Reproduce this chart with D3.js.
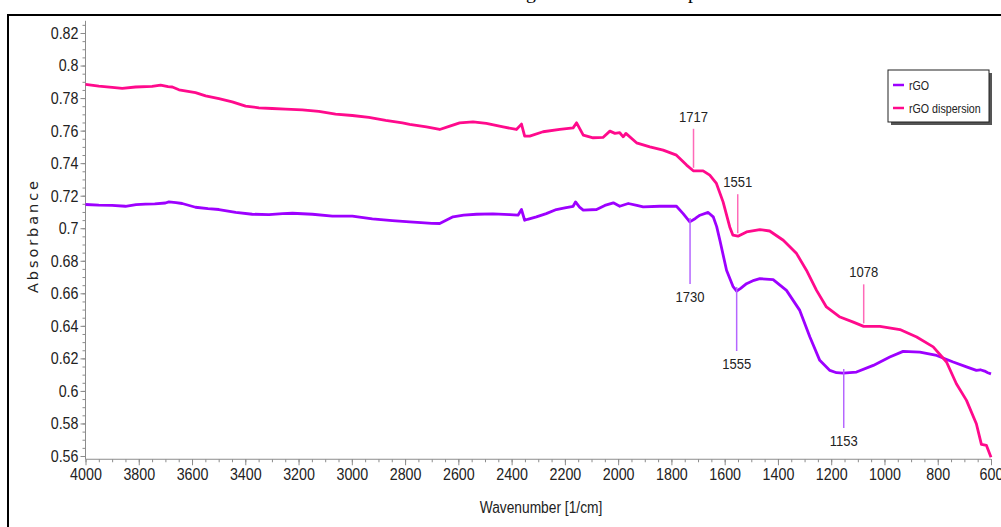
<!DOCTYPE html>
<html>
<head>
<meta charset="utf-8">
<script src="https://cdn.jsdelivr.net/npm/d3@7"></script>
<style>
  html, body { margin: 0; padding: 0; background: #fff; }
  svg { display: block; }
  .narrow { font-family: "Liberation Sans", Arial, sans-serif; }
</style>
</head>
<body>
<svg id="chart" width="1001" height="527"></svg>
<script>
// FTIR spectra: wavenumber (1/cm) and absorbance for each sample
const rgoWavenumber = [4000, 3950, 3900, 3850, 3810, 3775, 3740, 3700, 3687, 3660, 3637, 3587, 3540, 3499, 3436, 3374, 3311, 3260, 3223, 3148, 3073, 2998, 2923, 2848, 2783, 2740, 2700, 2670, 2620, 2580, 2532, 2470, 2407, 2376, 2363, 2351, 2340, 2307, 2270, 2232, 2200, 2169, 2160, 2145, 2131, 2081, 2050, 2018, 1994, 1962, 1930, 1906, 1844, 1781, 1756, 1731, 1710, 1693, 1662, 1643, 1630, 1618, 1593, 1569, 1555, 1540, 1518, 1490, 1468, 1418, 1368, 1318, 1280, 1243, 1205, 1180, 1155, 1105, 1042, 980, 930, 867, 804, 742, 692, 655, 640, 624, 612, 600];
const rgoAbsorbance  = [0.7146, 0.7142, 0.7140, 0.7135, 0.7145, 0.7148, 0.7150, 0.7155, 0.7162, 0.7158, 0.7152, 0.7129, 0.7120, 0.7115, 0.7097, 0.7086, 0.7084, 0.7090, 0.7092, 0.7086, 0.7074, 0.7074, 0.7057, 0.7047, 0.7039, 0.7035, 0.7030, 0.7029, 0.7070, 0.7080, 0.7086, 0.7088, 0.7084, 0.7080, 0.7115, 0.7049, 0.7055, 0.7070, 0.7090, 0.7115, 0.7125, 0.7135, 0.7162, 0.7130, 0.7111, 0.7115, 0.7140, 0.7156, 0.7135, 0.7152, 0.7140, 0.7131, 0.7135, 0.7135, 0.7090, 0.7039, 0.7060, 0.7080, 0.7097, 0.7070, 0.7010, 0.6926, 0.6742, 0.6643, 0.6614, 0.6630, 0.6659, 0.6680, 0.6690, 0.6684, 0.6618, 0.6495, 0.6331, 0.6188, 0.6126, 0.6112, 0.6110, 0.6116, 0.6157, 0.6208, 0.6243, 0.6239, 0.6218, 0.6178, 0.6148, 0.6126, 0.6130, 0.6122, 0.6112, 0.6105];

const dispWavenumber = [4000, 3950, 3900, 3862, 3812, 3750, 3718, 3690, 3674, 3649, 3587, 3549, 3499, 3449, 3399, 3349, 3299, 3249, 3186, 3124, 3061, 2998, 2936, 2873, 2810, 2783, 2720, 2670, 2632, 2595, 2545, 2495, 2432, 2382, 2363, 2351, 2332, 2282, 2219, 2169, 2156, 2131, 2094, 2057, 2031, 2012, 1994, 1981, 1971, 1931, 1881, 1831, 1781, 1743, 1718, 1681, 1656, 1631, 1606, 1581, 1569, 1550, 1518, 1468, 1431, 1380, 1330, 1293, 1255, 1218, 1167, 1117, 1078, 1017, 942, 879, 817, 767, 730, 692, 655, 636, 617, 600];
const dispAbsorbance  = [0.7884, 0.7874, 0.7866, 0.7860, 0.7868, 0.7872, 0.7880, 0.7870, 0.7868, 0.7851, 0.7833, 0.7814, 0.7796, 0.7777, 0.7751, 0.7740, 0.7736, 0.7732, 0.7728, 0.7718, 0.7702, 0.7693, 0.7681, 0.7663, 0.7648, 0.7638, 0.7623, 0.7607, 0.7628, 0.7648, 0.7654, 0.7644, 0.7623, 0.7607, 0.7640, 0.7566, 0.7566, 0.7593, 0.7607, 0.7617, 0.7648, 0.7572, 0.7556, 0.7558, 0.7597, 0.7583, 0.7587, 0.7562, 0.7583, 0.7525, 0.7500, 0.7480, 0.7449, 0.7388, 0.7353, 0.7353, 0.7326, 0.7275, 0.7162, 0.7008, 0.6957, 0.6951, 0.6977, 0.6992, 0.6983, 0.6926, 0.6844, 0.6742, 0.6618, 0.6516, 0.6454, 0.6423, 0.6397, 0.6397, 0.6377, 0.6331, 0.6271, 0.6178, 0.6044, 0.5942, 0.5798, 0.5671, 0.5665, 0.5592];

const seriesNames = ["rGO", "rGO dispersion"];
const seriesColors = ["#9d00ff", "#ff0a8c"];

// Peak markers: wavenumber label, absorbance at the peak, which series
const peakRgo = [1730, 1555, 1153];
const peakRgoValue = [0.7039, 0.6614, 0.6110];
const peakDisp = [1717, 1551, 1078];
const peakDispValue = [0.7353, 0.6951, 0.6397];

const xTicks = d3.range(4000, 599, -200);
const yTicks = d3.range(0.56, 0.8201, 0.02).map(v => +v.toFixed(2));

const captionText = "FTIR of rGO before and after being made into rGO dispersion";

const svg = d3.select("#chart");

// Squeeze text horizontally to imitate a condensed face
function condense(sel, f) {
  sel.each(function () {
    const w = this.getComputedTextLength();
    d3.select(this).attr("textLength", w * f).attr("lengthAdjust", "spacingAndGlyphs");
  });
}

// Page caption line, mostly above the top edge
const cap = svg.append("text")
  .attr("x", 0).attr("y", -1)
  .attr("font-family", "Liberation Serif, Times New Roman, serif")
  .attr("font-size", 26)
  .attr("fill", "#000")
  .text(captionText);
{
  const node = cap.node();
  const gi = captionText.indexOf("being") + 4;
  const pi = captionText.indexOf("dispersion") + 3;
  const gx0 = node.getStartPositionOfChar(gi).x;
  const px0 = node.getStartPositionOfChar(pi).x;
  const size = 26 * 162 / (px0 - gx0);
  cap.attr("font-size", size);
  const gx1 = node.getStartPositionOfChar(gi).x;
  cap.attr("x", 526 - gx1);
}

// Outer frame
svg.append("rect")
  .attr("x", 8).attr("y", 15).attr("width", 1100).attr("height", 600)
  .attr("fill", "none").attr("stroke", "#000").attr("stroke-width", 2);

const x = d3.scaleLinear().domain([4000, 600]).range([85.5, 991]);
const y = d3.scaleLinear().domain([0.56, 0.82]).range([456, 33]);
const yBottom = y(0.558), yTop = y(0.8275);

const axisColor = "#8c8c8c";

// X axis: minor ticks every 50, major every 200
const gx = svg.append("g").attr("transform", `translate(0,${yBottom})`);
gx.call(d3.axisBottom(x).tickValues(d3.range(4000, 599, -50)).tickSize(3).tickFormat(""));
gx.call(g => g.selectAll("path").remove());
const gx2 = svg.append("g").attr("transform", `translate(0,${yBottom})`);
gx2.call(d3.axisBottom(x).tickValues(xTicks).tickSize(6).tickPadding(3).tickFormat(d3.format("d")));
gx2.select(".domain").attr("d", `M${x(4000)},0H${x(600)}`);
[gx, gx2].forEach(g => {
  g.selectAll("line").attr("stroke", axisColor);
  g.selectAll("path").attr("stroke", axisColor);
  g.selectAll("text").attr("class", "narrow").attr("font-size", 17).attr("fill", "#222");
});
condense(gx2.selectAll("text"), 0.84);

// Y axis: minor ticks every 0.005, major every 0.02
const gy = svg.append("g").attr("transform", `translate(${x(4000)},0)`);
gy.call(d3.axisLeft(y).tickValues(d3.range(0.56, 0.826, 0.005)).tickSize(3).tickFormat(""));
gy.call(g => g.selectAll("path").remove());
const gy2 = svg.append("g").attr("transform", `translate(${x(4000)},0)`);
gy2.call(d3.axisLeft(y).tickValues(yTicks).tickSize(5).tickPadding(2).tickFormat(d => String(+d.toFixed(2))));
gy2.select(".domain").attr("d", `M0,${yTop}V${yBottom}`);
[gy, gy2].forEach(g => {
  g.selectAll("line").attr("stroke", axisColor);
  g.selectAll("path").attr("stroke", axisColor);
  g.selectAll("text").attr("class", "narrow").attr("font-size", 17).attr("fill", "#222");
});
condense(gy2.selectAll("text"), 0.84);

// Axis titles
const xTitle = svg.append("text")
  .attr("class", "narrow")
  .attr("x", 541).attr("y", 513)
  .attr("text-anchor", "middle")
  .attr("font-size", 16).attr("fill", "#222")
  .text("Wavenumber [1/cm]");
condense(xTitle, 0.86);

svg.append("text")
  .attr("transform", "translate(38,237) rotate(-90)")
  .attr("text-anchor", "middle")
  .attr("font-family", "DejaVu Sans, Verdana, sans-serif")
  .attr("font-size", 14.5).attr("fill", "#222")
  .attr("textLength", 112).attr("lengthAdjust", "spacing")
  .text("Absorbance");

// Spectra
const line = d3.line().x(d => x(d[0])).y(d => y(d[1]));
const series = [
  d3.zip(rgoWavenumber, rgoAbsorbance),
  d3.zip(dispWavenumber, dispAbsorbance)
];
series.forEach((pts, i) => {
  svg.append("path")
    .datum(pts)
    .attr("fill", "none")
    .attr("stroke", seriesColors[i])
    .attr("stroke-width", 2.8)
    .attr("stroke-linejoin", "round")
    .attr("d", line);
});

// Peak annotations
const dispMarkColor = "#ff6ab8";
const rgoMarkColor = "#b566ff";
// rGO dispersion: label above the curve
peakDisp.forEach((wn, i) => {
  const px = x(wn), py = y(peakDispValue[i]);
  svg.append("line")
    .attr("x1", px).attr("x2", px)
    .attr("y1", py - 3).attr("y2", py - 42)
    .attr("stroke", dispMarkColor).attr("stroke-width", 1.5);
  const t = svg.append("text")
    .attr("class", "narrow")
    .attr("x", px).attr("y", py - 49)
    .attr("text-anchor", "middle")
    .attr("font-size", 15.5).attr("fill", "#222")
    .text(wn);
  condense(t, 0.84);
});
// rGO: label below the curve
const rgoDrop = [62, 60, 55];
peakRgo.forEach((wn, i) => {
  const px = x(wn), py = y(peakRgoValue[i]);
  svg.append("line")
    .attr("x1", px).attr("x2", px)
    .attr("y1", py - 4).attr("y2", py + rgoDrop[i])
    .attr("stroke", rgoMarkColor).attr("stroke-width", 1.5);
  const t = svg.append("text")
    .attr("class", "narrow")
    .attr("x", px).attr("y", py + rgoDrop[i] + 18)
    .attr("text-anchor", "middle")
    .attr("font-size", 15.5).attr("fill", "#222")
    .text(wn);
  condense(t, 0.84);
});

// Legend with drop shadow
const lg = svg.append("g").attr("transform", "translate(888,70)");
lg.append("rect").attr("x", 3).attr("y", 3).attr("width", 101).attr("height", 52).attr("fill", "#555");
lg.append("rect").attr("x", 0).attr("y", 0).attr("width", 101).attr("height", 52)
  .attr("fill", "#fff").attr("stroke", "#222").attr("stroke-width", 1);
seriesNames.forEach((name, i) => {
  const ly = 15 + i * 23;
  lg.append("line").attr("x1", 5).attr("x2", 16).attr("y1", ly).attr("y2", ly)
    .attr("stroke", seriesColors[i]).attr("stroke-width", 2.5);
  const t = lg.append("text").attr("class", "narrow")
    .attr("x", 21).attr("y", ly + 4.5)
    .attr("font-size", 13).attr("fill", "#222")
    .text(name);
  condense(t, 0.82);
});
</script>
</body>
</html>
